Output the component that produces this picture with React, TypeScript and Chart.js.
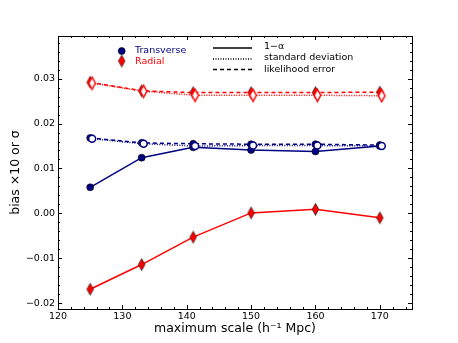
import React, { useEffect, useRef } from "react";
import { Chart, registerables } from "chart.js";
Chart.register(...registerables);

// ---- data ----
const scales = [125, 133, 141, 150, 160, 170];
const transAlpha = [0.0058, 0.0124, 0.0147, 0.0141, 0.0138, 0.0150];
const transStd = [0.0166, 0.0155, 0.0150, 0.0151, 0.0151, 0.0150];
const transLik = [0.0168, 0.0157, 0.0155, 0.0154, 0.0154, 0.0152];
const radAlpha = [-0.0169, -0.0114, -0.0053, 0.0001, 0.0009, -0.0010];
const radStd = [0.0290, 0.0272, 0.0263, 0.0263, 0.0263, 0.0262];
const radLik = [0.0292, 0.0273, 0.0269, 0.0269, 0.0269, 0.0270];
const stdOffset = 0.3;
const xMin = 120, xMax = 175, xStep = 10, xMinor = 2;
const yMin = -0.0213, yMax = 0.0395, yStep = 0.01, yMinor = 0.002;
const legendSeries = ["Transverse", "Radial"];
const legendStyles = ["1\u2212\u03b1", "standard deviation", "likelihood error"];

const NAVY = "#000080";
const RED = "#ff0000";
const FONT = "'DejaVu Sans', sans-serif";

function makeDiamond(fill: string, stroke: string, lw: number) {
  const c = document.createElement("canvas");
  c.width = 11;
  c.height = 15;
  const ctx = c.getContext("2d")!;
  ctx.beginPath();
  ctx.moveTo(5.5, 1.5);
  ctx.lineTo(8.8, 7.5);
  ctx.lineTo(5.5, 13.5);
  ctx.lineTo(2.2, 7.5);
  ctx.closePath();
  ctx.fillStyle = fill;
  ctx.fill();
  ctx.lineWidth = lw;
  ctx.strokeStyle = stroke;
  ctx.stroke();
  return c;
}

const pts = (ys: number[], off = 0) => scales.map((x, i) => ({ x: x + off, y: ys[i] }));

const framePlugin = {
  id: "frame",
  afterDraw(chart: any) {
    const { ctx, chartArea: a, scales: s } = chart;
    ctx.save();
    ctx.strokeStyle = "#000";
    ctx.lineWidth = 1;
    ctx.setLineDash([]);
    ctx.strokeRect(Math.round(a.left) + 0.5, Math.round(a.top) + 0.5, Math.round(a.right - a.left), Math.round(a.bottom - a.top));
    ctx.beginPath();
    for (let v = xMin; v <= xMax + 1e-9; v += xMinor) {
      const major = Math.abs(v / xStep - Math.round(v / xStep)) < 1e-6;
      const L = major ? 4 : 2;
      const px = Math.round(s.x.getPixelForValue(v)) + 0.5;
      ctx.moveTo(px, a.bottom); ctx.lineTo(px, a.bottom - L);
      ctx.moveTo(px, a.top); ctx.lineTo(px, a.top + L);
    }
    for (let k = Math.ceil(yMin / yMinor); k * yMinor <= yMax + 1e-12; k++) {
      const v = k * yMinor;
      const major = k % 5 === 0;
      const L = major ? 4 : 2;
      const py = Math.round(s.y.getPixelForValue(v)) + 0.5;
      ctx.moveTo(a.left, py); ctx.lineTo(a.left + L, py);
      ctx.moveTo(a.right, py); ctx.lineTo(a.right - L, py);
    }
    ctx.stroke();

    // legend 1 (series)
    ctx.beginPath();
    ctx.arc(121.7, 51, 3.5, 0, Math.PI * 2);
    ctx.fillStyle = NAVY;
    ctx.fill();
    ctx.lineWidth = 0.6;
    ctx.strokeStyle = "#000";
    ctx.stroke();
    ctx.drawImage(makeDiamond(RED, "#000", 0.6), 121.7 - 5.5, 61 - 7.5);
    ctx.font = "9.5px " + FONT;
    ctx.textBaseline = "middle";
    ctx.textAlign = "left";
    ctx.fillStyle = NAVY;
    ctx.fillText(legendSeries[0], 135, 50.5);
    ctx.fillStyle = RED;
    ctx.fillText(legendSeries[1], 135, 61.5);

    // legend 2 (line styles)
    const ys = [48, 59, 69.5];
    const dashes = [[], [1, 1.5], [4, 3]];
    ctx.strokeStyle = "#000";
    ctx.lineWidth = 1.5;
    ys.forEach((y, i) => {
      ctx.beginPath();
      ctx.setLineDash(dashes[i]);
      ctx.moveTo(213, y);
      ctx.lineTo(252, y);
      ctx.stroke();
    });
    ctx.setLineDash([]);
    ctx.fillStyle = "#000";
    ctx.font = "9.5px " + FONT;
    ctx.fillText(legendStyles[0], 264, 46.5);
    ctx.fillText(legendStyles[1], 264, 58);
    ctx.fillText(legendStyles[2], 264, 69.5);
    ctx.restore();
  },
};

export default function App() {
  const ref = useRef<HTMLCanvasElement>(null);
  useEffect(() => {
    const openDiamond = makeDiamond("#ffffff", RED, 1.5);
    const fillDiamond = makeDiamond(RED, "#000", 0.6);
    const common = { showLine: true, borderWidth: 1.5 };
    const chart = new Chart(ref.current!, {
      type: "line",
      data: {
        datasets: [
          { ...common, data: pts(transStd, stdOffset), borderColor: NAVY, borderDash: [1, 1.5], pointStyle: "circle", pointRadius: 3.5, pointBackgroundColor: "#fff", pointBorderColor: NAVY, pointBorderWidth: 1.5, order: 0 },
          { ...common, data: pts(radStd, stdOffset), borderColor: RED, borderDash: [1, 1.5], pointStyle: openDiamond, pointRadius: 5, order: 0 },
          { ...common, data: pts(transAlpha), borderColor: NAVY, pointStyle: "circle", pointRadius: 3.5, pointBackgroundColor: NAVY, pointBorderColor: "#000", pointBorderWidth: 0.6, order: 1 },
          { ...common, data: pts(radAlpha), borderColor: RED, pointStyle: fillDiamond, pointRadius: 5, order: 1 },
          { ...common, data: pts(transLik), borderColor: NAVY, borderDash: [4, 3], pointStyle: "circle", pointRadius: 3.5, pointBackgroundColor: NAVY, pointBorderColor: "#000", pointBorderWidth: 0.6, order: 2 },
          { ...common, data: pts(radLik), borderColor: RED, borderDash: [4, 3], pointStyle: fillDiamond, pointRadius: 5, order: 2 },
        ],
      },
      options: {
        responsive: false,
        animation: false,
        parsing: true,
        layout: { padding: { left: 0, right: 46, top: 36, bottom: 0 } },
        plugins: { legend: { display: false }, tooltip: { enabled: false } },
        scales: {
          x: {
            type: "linear",
            min: xMin,
            max: xMax,
            grid: { display: false, drawTicks: false, tickLength: 0 },
            border: { display: false },
            ticks: { stepSize: xStep, includeBounds: false, color: "#000", padding: 2, maxRotation: 0, font: { family: FONT, size: 9.5 }, callback: (v: any) => String(v) },
            title: { display: true, text: "maximum scale (h\u207b\u00b9 Mpc)", color: "#000", font: { family: FONT, size: 12.5 }, padding: { top: 0, bottom: 7 } },
            afterFit: (s: any) => { s.height = 34; },
          },
          y: {
            type: "linear",
            min: yMin,
            max: yMax,
            grid: { display: false, drawTicks: false, tickLength: 0 },
            border: { display: false },
            ticks: {
              stepSize: yStep, includeBounds: false, color: "#000", padding: 3, font: { family: FONT, size: 9.5 },
              callback: (v: any) => { const n = Number(v); if (Math.abs(n) < 1e-9) return "0.00"; return (n < 0 ? "\u2212" : "") + Math.abs(n).toFixed(2); },
            },
            title: { display: true, text: "bias \u00d710 or \u03c3", color: "#000", font: { family: FONT, size: 12.5 }, padding: { top: 8, bottom: 0 } },
            afterFit: (s: any) => { s.width = 58; },
          },
        },
      } as any,
      plugins: [framePlugin],
    });
    return () => chart.destroy();
  }, []);
  return (
    <div style={{ position: "fixed", left: 0, top: 0, width: 458, height: 343, background: "#fff" }}>
      <canvas ref={ref} width={458} height={343} style={{ display: "block" }} />
    </div>
  );
}
